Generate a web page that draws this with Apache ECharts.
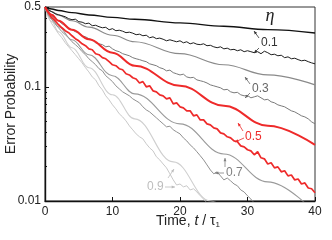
<!DOCTYPE html>
<html><head><meta charset="utf-8">
<script src="https://cdn.jsdelivr.net/npm/echarts@6/dist/echarts.min.js"></script>
<style>html,body{margin:0;padding:0;background:#fff}#c{width:332px;height:240px}</style>
</head><body><div id="c"></div>
<script>
// ---- data ----
const tSim = [0,0.5,1,1.5,2,2.5,3,3.5,4,4.5,5,5.5,6,6.5,7,7.5,8,8.5,9,9.5,10,10.5,11,11.5,12,12.5,13,13.5,14,14.5,15,15.5,16,16.5,17,17.5,18,18.5,19,19.5,20,20.5,21,21.5,22,22.5,23,23.5,24,24.5,25,25.5,26,26.5,27,27.5,28,28.5,29,29.5,30,30.5,31,31.5,32,32.5,33,33.5,34,34.5,35,35.5,36,36.5,37,37.5,38,38.5,39,39.5,40];
const sim01 = [0.5,0.473,0.455,0.437,0.428,0.419,0.411,0.395,0.387,0.391,
  0.372,0.368,0.357,0.361,0.343,0.346,0.336,0.329,0.332,0.316,
  0.323,0.310,0.313,0.307,0.298,0.301,0.295,0.286,0.289,0.280,
  0.283,0.269,0.274,0.264,0.267,0.261,0.253,0.258,0.253,0.248,
  0.253,0.243,0.248,0.238,0.243,0.236,0.234,0.238,0.229,0.231,
  0.224,0.220,0.224,0.215,0.218,0.211,0.213,0.207,0.211,0.203,
  0.207,0.203,0.199,0.203,0.195,0.205,0.199,0.191,0.193,0.187,
  0.189,0.180,0.183,0.176,0.178,0.173,0.169,0.171,0.166,0.162,0.159];
const sim03 = [0.5,0.455,0.419,0.395,0.379,0.357,0.343,0.329,0.316,0.304,
  0.298,0.280,0.274,0.264,0.258,0.243,0.238,0.234,0.224,0.227,
  0.215,0.207,0.203,0.195,0.191,0.187,0.180,0.176,0.173,0.169,
  0.166,0.159,0.156,0.153,0.147,0.144,0.138,0.140,0.133,0.130,
  0.127,0.129,0.122,0.120,0.121,0.115,0.113,0.111,0.108,0.104,
  0.102,0.100,0.098,0.0941,0.0950,0.0904,0.0886,0.0895,0.0851,0.0834,
  0.0840,0.0801,0.0817,0.0834,0.0801,0.0769,0.0776,0.0739,0.0724,0.0695,
  0.0681,0.0668,0.0641,0.0616,0.0603,0.0580,0.0557,0.0545,0.0524,0.0493,0.0474];
const sim05 = [0.5,0.446,0.403,0.379,0.350,0.329,0.310,0.298,0.280,0.264,
  0.253,0.238,0.229,0.215,0.211,0.195,0.191,0.180,0.176,0.166,
  0.156,0.153,0.144,0.141,0.130,0.127,0.120,0.117,0.108,0.111,
  0.100,0.102,0.0922,0.0904,0.0851,0.0834,0.0785,0.0801,0.0709,0.0724,
  0.0668,0.0654,0.0616,0.0616,0.0557,0.0568,0.0513,0.0513,0.0474,0.0464,
  0.0437,0.0428,0.0395,0.0387,0.0365,0.0357,0.0336,0.0330,0.0304,0.0298,
  0.0281,0.0275,0.0254,0.0270,0.0239,0.0234,0.0211,0.0216,0.0195,0.0199,
  0.0180,0.0184,0.0166,0.0169,0.0153,0.0156,0.0141,0.0144,0.0130,0.0128,0.0118];
const sim07 = [0.5,0.428,0.387,0.357,0.329,0.304,0.286,0.269,0.248,0.234,
  0.220,0.203,0.191,0.176,0.166,0.156,0.144,0.138,0.125,0.118,
  0.111,0.102,0.096,0.0904,0.0868,0.0834,0.0785,0.0754,0.0724,0.0668,
  0.0628,0.0603,0.0568,0.0535,0.0503,0.0474,0.0446,0.0452,0.0420,0.0403,
  0.0387,0.0357,0.0336,0.0310,0.0292,0.0270,0.0249,0.0229,0.0207,0.0187,
  0.0173,0.0180,0.0166,0.0153,0.0159,0.0150,0.0141,0.0136,0.0125,0.0120,
  0.0111,0.0104,0.0096,0.0088];
const sim09 = [0.5,0.411,0.357,0.323,0.292,0.269,0.243,0.224,0.207,0.191,
  0.176,0.162,0.147,0.135,0.122,0.115,0.102,0.0941,0.0834,0.0769,
  0.0695,0.0641,0.0580,0.0545,0.0503,0.0455,0.0420,0.0387,0.0365,0.0350,
  0.0317,0.0292,0.0275,0.0244,0.0229,0.0211,0.0195,0.0173,0.0153,0.0138,
  0.0141,0.0133,0.0136,0.0125,0.0128,0.0120,0.0111,0.0104,0.0096];
const tTh = [0,1,2,4,6.5,10,13.3,20,26.5,33,40];
const th01 = [0.5,0.480,0.466,0.446,0.426,0.406,0.390,0.363,0.339,0.317,0.296];
const th03 = [0.5,0.455,0.424,0.379,0.333,0.283,0.248,0.195,0.156,0.127,0.104];
const th05 = [0.5,0.428,0.379,0.316,0.261,0.199,0.153,0.102,0.0681,0.0455,0.031];
const th07 = [0.5,0.395,0.336,0.258,0.191,0.125,0.0868,0.0474,0.0258,0.0147,0.00785];
const tTh09 = [0,1,2,4,6.5,10,13.3,19,24.5,30];
const th09 = [0.5,0.372,0.304,0.220,0.147,0.0851,0.0524,0.0220,0.0100,0.00483];
const xTicks = [0,10,20,30,40];
const yLabels = [0.01,0.1,0.5];
const yMinor = [0.02,0.03,0.04,0.05,0.06,0.07,0.08,0.09,0.2,0.3,0.4];
const etaNames = ['0.1','0.3','0.5','0.7','0.9'];

// ---- chart ----
const FONT = '"Liberation Sans", Arial, sans-serif';
const chart = echarts.init(document.getElementById('c'), null, {renderer:'canvas'});
function pairs(ts, vs){ return vs.map((v,i)=>[ts[i], v]); }
function line(name, ts, vs, color, width, smooth){
  return {type:'line', name, data:pairs(ts,vs), showSymbol:false, symbol:'none', clip:true,
    smooth: smooth ? 0.4 : false, smoothMonotone: smooth ? 'x' : undefined,
    lineStyle:{color, width}, emphasis:{disabled:true}, silent:true};
}
function arrow(x1,y1,x2,y2,color){
  const a = Math.atan2(y2-y1, x2-x1), h=3.6, w=0.42;
  return [
    {type:'line', shape:{x1,y1,x2,y2}, style:{stroke:color, lineWidth:0.8}, silent:true, z:100},
    {type:'polygon', shape:{points:[[x2,y2],[x2-h*Math.cos(a-w), y2-h*Math.sin(a-w)],[x2-h*Math.cos(a+w), y2-h*Math.sin(a+w)]]}, style:{fill:color}, silent:true, z:100}
  ];
}
function label(text,x,y,color){
  return {type:'text', x, y, z:100, silent:true, style:{text, fill:color, font:'12px '+FONT, align:'left', verticalAlign:'middle'}};
}
const cBlack='#1e1e1e', cG3='#7a7a7a', cRed='#ee2a2a', cG7='#909090', cG9='#c8c8c8';
const graphics = [].concat(
  [label(etaNames[0],261,43,'#333')], arrow(259,38,254,31,'#333'), arrow(259,48,254,53,'#333'),
  [label(etaNames[1],252,89,'#666')], arrow(250,84,245,77,'#666'), arrow(250,93,245,98,'#666'),
  [label(etaNames[2],245,137,cRed)], arrow(243,131,238,123,cRed), arrow(244,138,235,142,cRed),
  [label(etaNames[3],226,173,'#808080')], arrow(224,173,215,173,'#808080'), arrow(225,167,225,158,'#808080'),
  [label(etaNames[4],147,187,'#bdbdbd')], arrow(165,187,175,187,'#bdbdbd'), arrow(168,178,174,169,'#bdbdbd'),
  [{type:'text', x:270, y:16, z:100, style:{text:'η', font:'italic 18px "Liberation Serif", serif', fill:'#222', align:'center', verticalAlign:'middle'}},
   {type:'text', x:11, y:104, rotation:Math.PI/2, z:100, style:{text:'Error Probability', font:'14px '+FONT, fill:'#222', align:'center', verticalAlign:'middle'}},
   {type:'text', x:188, y:221, z:100, style:{text:'{a|Time, }{i|t}{a| / τ}{s|1}', align:'center', verticalAlign:'middle',
     rich:{a:{font:'14px '+FONT, fill:'#222'}, i:{font:'italic 14px '+FONT, fill:'#222'}, s:{font:'8px '+FONT, fill:'#222', padding:[7,0,0,0]}}}}]
);
const option = {
  animation:false,
  grid:{left:45,right:17,top:7,bottom:39,show:true,borderColor:'#333',borderWidth:1,backgroundColor:'transparent'},
  xAxis:{type:'value',min:xTicks[0],max:xTicks[xTicks.length-1],interval:10,
    axisLine:{onZero:false,lineStyle:{color:'#111',width:1.4}},
    axisTick:{inside:true,length:4,lineStyle:{color:'#111'}},
    axisLabel:{fontSize:12,color:'#222',margin:5,fontFamily:FONT},
    splitLine:{show:false}},
  yAxis:[
    {type:'log',logBase:10,min:yLabels[0],max:yLabels[yLabels.length-1],
     axisLine:{show:true,lineStyle:{color:'#111',width:1.4}},
     axisTick:{show:true,inside:true,length:4,customValues:yLabels,lineStyle:{color:'#111'}},
     axisLabel:{customValues:yLabels,fontSize:12,color:'#222',margin:4,fontFamily:FONT,
       formatter:v=>String(+(+v).toPrecision(2))},
     splitLine:{show:false}},
    {type:'log',logBase:10,min:yLabels[0],max:yLabels[yLabels.length-1],position:'left',offset:0,
     axisLine:{show:false},axisLabel:{show:false},
     axisTick:{show:true,inside:true,length:2,customValues:yMinor,lineStyle:{color:'#111'}},
     splitLine:{show:false}}
  ],
  series:[
    line('sim 0.9', tSim, sim09, cG9, 1, false),
    line('theory 0.9', tTh09, th09, '#cfcfcf', 1.1, true),
    line('sim 0.7', tSim, sim07, cG7, 1, false),
    line('theory 0.7', tTh, th07, '#9a9a9a', 1.1, true),
    line('sim 0.3', tSim, sim03, cG3, 1, false),
    line('theory 0.3', tTh, th03, '#8a8a8a', 1.2, true),
    line('sim 0.1', tSim, sim01, cBlack, 1, false),
    line('theory 0.1', tTh, th01, '#111', 1.4, true),
    line('sim 0.5', tSim, sim05, cRed, 1.7, false),
    line('theory 0.5', tTh, th05, cRed, 2, true)
  ],
  graphic: graphics
};
chart.setOption(option);
</script>
</body></html>
